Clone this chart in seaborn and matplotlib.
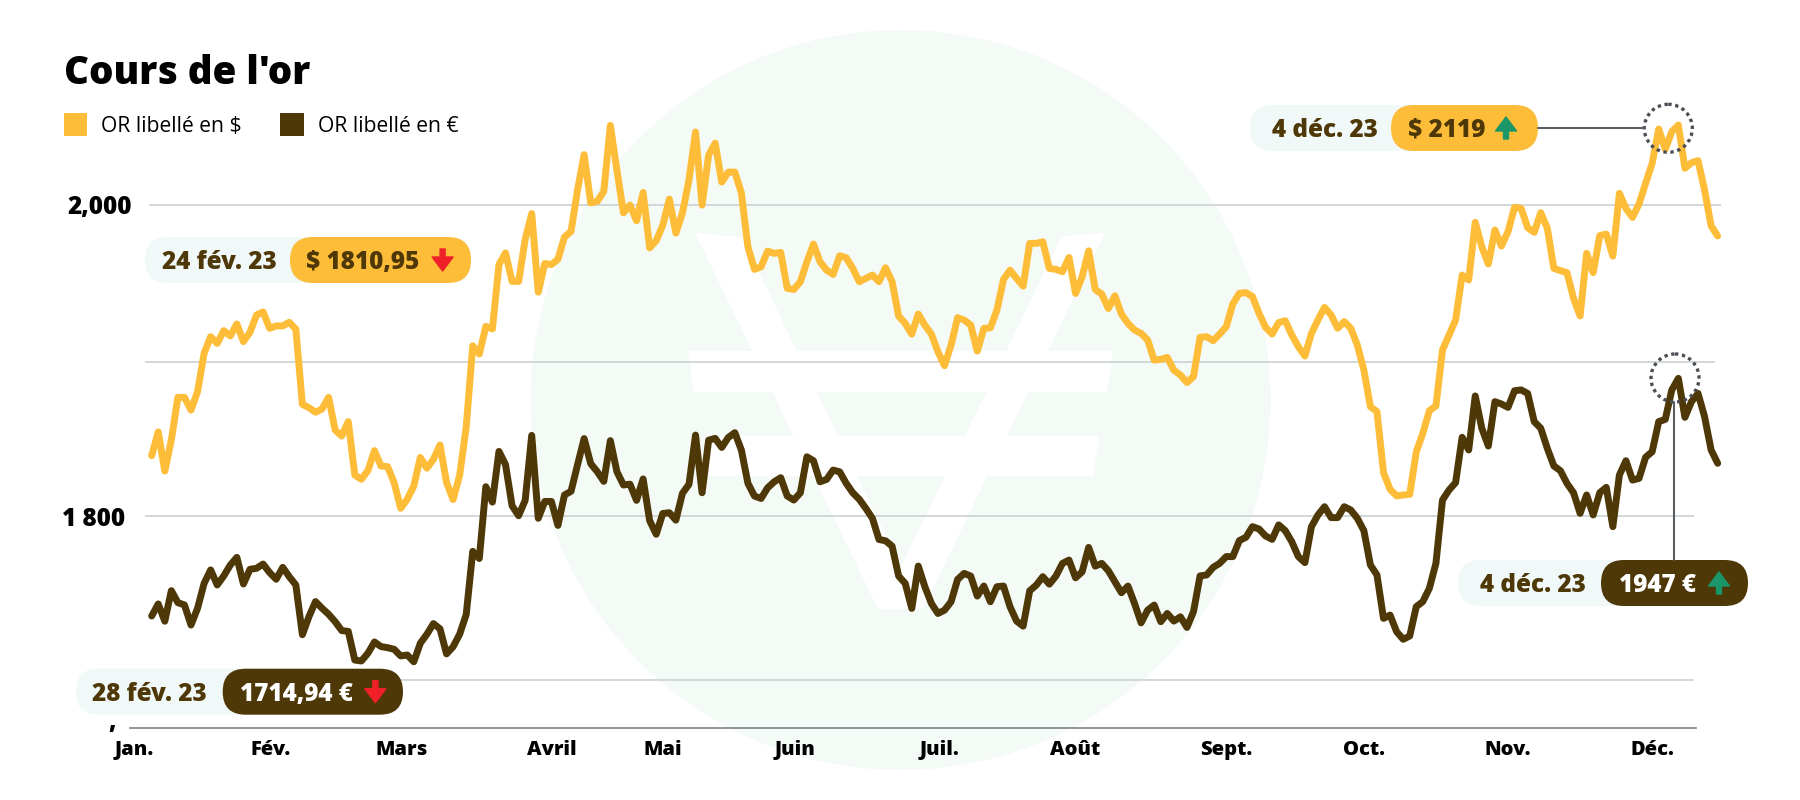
import matplotlib
matplotlib.use('Agg')
import matplotlib.pyplot as plt
import matplotlib.patches as mpatches
import pandas as pd
import seaborn as sns

usd_prices = [
    1841.6, 1856.6, 1831.9, 1851.5, 1878.4, 1878.4, 1870.4, 1882.0, 1906.2, 1916.7,
    1912.5, 1920.5, 1917.2, 1924.7, 1913.6, 1919.5, 1930.4, 1932.3, 1922.0, 1923.5,
    1923.5, 1925.8, 1921.4, 1874.0, 1871.9, 1869.0, 1871.1, 1878.4, 1857.8, 1854.0,
    1863.1, 1829.4, 1826.7, 1832.2, 1844.8, 1835.1, 1834.7, 1824.6, 1808.4, 1814.1,
    1822.4, 1840.5, 1833.7, 1839.3, 1848.4, 1824.7, 1813.9, 1829.2, 1859.6, 1911.0,
    1905.8, 1923.2, 1921.6, 1962.2, 1969.6, 1951.6, 1951.6, 1978.0, 1994.4, 1944.8,
    1962.9, 1962.2, 1965.6, 1979.6, 1983.2, 2009.5, 2031.6, 2001.2, 2002.1, 2008.4,
    2050.1, 2021.9, 1994.9, 1999.8, 1989.9, 2007.7, 1972.8, 1977.3, 1987.0, 2003.5,
    1982.1, 1994.8, 2015.6, 2045.9, 1999.8, 2031.4, 2038.9, 2014.3, 2020.6, 2020.6,
    2007.4, 1973.3, 1959.2, 1960.8, 1970.7, 1969.3, 1969.9, 1947.2, 1946.5, 1951.4,
    1964.0, 1975.2, 1964.0, 1958.7, 1956.0, 1967.8, 1966.5, 1959.8, 1951.4, 1953.5,
    1955.6, 1951.4, 1960.2, 1951.4, 1929.7, 1925.1, 1918.3, 1931.0, 1924.0, 1918.3,
    1907.2, 1898.4, 1911.4, 1928.7, 1927.2, 1924.0, 1907.6, 1921.9, 1922.3, 1933.5,
    1952.8, 1958.7, 1953.5, 1948.6, 1975.6, 1975.6, 1976.6, 1959.8, 1959.2, 1957.7,
    1966.7, 1944.0, 1954.5, 1970.9, 1946.5, 1943.6, 1934.5, 1942.5, 1931.0, 1925.1,
    1920.9, 1918.8, 1914.6, 1901.9, 1902.4, 1903.6, 1895.6, 1892.5, 1887.8, 1891.5,
    1916.3, 1916.7, 1914.2, 1918.4, 1923.0, 1937.4, 1944.1, 1944.5, 1942.0, 1931.5,
    1922.6, 1918.4, 1925.6, 1926.8, 1917.8, 1910.4, 1904.5, 1918.8, 1927.3, 1935.2,
    1930.4, 1922.0, 1926.2, 1922.0, 1911.5, 1895.7, 1872.5, 1869.4, 1830.9, 1820.4,
    1816.2, 1816.8, 1817.2, 1844.1, 1855.7, 1870.0, 1873.0, 1908.3, 1917.8, 1927.2,
    1955.6, 1952.5, 1988.9, 1973.5, 1962.6, 1984.0, 1973.9, 1983.0, 1998.4, 1997.7,
    1985.5, 1982.6, 1995.0, 1985.1, 1959.8, 1958.4, 1957.1, 1940.9, 1929.8, 1969.3,
    1957.1, 1980.5, 1981.5, 1967.6, 2007.2, 1997.7, 1992.0, 2000.5, 2013.5, 2026.1,
    2047.8, 2035.0, 2046.1, 2050.3, 2023.0, 2026.5, 2027.8, 2009.3, 1986.6, 1980.3,
]

eur_prices = [
    1740.4, 1748.0, 1737.1, 1756.4, 1748.8, 1747.4, 1734.7, 1745.3, 1761.0, 1769.5,
    1760.0, 1765.7, 1772.6, 1777.4, 1760.6, 1769.9, 1770.5, 1773.2, 1767.8, 1763.6,
    1771.1, 1765.2, 1760.0, 1728.6, 1740.0, 1749.5, 1745.3, 1741.5, 1736.8, 1731.2,
    1730.7, 1712.6, 1712.0, 1716.9, 1724.0, 1721.1, 1720.4, 1719.4, 1715.2, 1715.8,
    1711.5, 1723.2, 1728.9, 1735.6, 1732.3, 1716.5, 1721.0, 1728.9, 1741.3, 1781.2,
    1776.7, 1822.0, 1812.3, 1844.3, 1836.0, 1810.0, 1803.7, 1813.4, 1854.4, 1802.1,
    1812.7, 1812.7, 1797.6, 1816.8, 1819.1, 1836.0, 1852.4, 1836.6, 1831.5, 1825.4,
    1851.1, 1831.5, 1823.1, 1823.6, 1813.4, 1826.9, 1800.6, 1792.0, 1805.1, 1805.6,
    1800.9, 1817.8, 1823.5, 1854.6, 1818.2, 1851.4, 1852.5, 1846.8, 1853.1, 1856.1,
    1845.1, 1824.1, 1816.1, 1814.6, 1821.3, 1825.1, 1827.7, 1816.1, 1813.6, 1818.2,
    1840.9, 1838.4, 1825.1, 1826.6, 1832.5, 1831.4, 1824.1, 1818.2, 1814.0, 1808.3,
    1802.0, 1788.7, 1787.9, 1784.5, 1765.6, 1761.0, 1745.2, 1771.9, 1758.9, 1748.3,
    1742.0, 1744.1, 1749.4, 1763.5, 1767.3, 1765.6, 1753.0, 1759.3, 1749.4, 1758.9,
    1759.3, 1746.2, 1737.2, 1734.0, 1756.3, 1759.9, 1765.2, 1760.5, 1765.6, 1773.6,
    1775.7, 1764.5, 1768.3, 1783.7, 1771.9, 1773.6, 1769.0, 1762.0, 1755.1, 1759.3,
    1748.3, 1736.1, 1744.1, 1747.3, 1736.8, 1742.0, 1737.2, 1739.9, 1733.2, 1743.2,
    1765.7, 1766.3, 1771.1, 1773.7, 1777.9, 1777.9, 1788.0, 1790.1, 1796.8, 1795.3,
    1790.9, 1788.8, 1797.9, 1794.3, 1787.3, 1777.9, 1774.1, 1796.8, 1804.2, 1809.4,
    1802.5, 1802.5, 1809.4, 1807.3, 1802.1, 1794.3, 1772.6, 1766.3, 1738.9, 1741.0,
    1730.5, 1725.7, 1727.8, 1746.3, 1749.5, 1757.9, 1773.7, 1813.6, 1819.9, 1824.6,
    1853.2, 1845.2, 1879.3, 1858.9, 1847.7, 1875.7, 1874.2, 1872.1, 1882.6, 1883.1,
    1880.9, 1863.1, 1858.9, 1846.2, 1835.1, 1832.1, 1824.1, 1818.2, 1805.2, 1816.8,
    1804.2, 1818.2, 1821.6, 1796.8, 1829.4, 1838.4, 1826.2, 1827.3, 1840.6, 1844.1,
    1863.1, 1864.5, 1883.1, 1890.4, 1865.8, 1875.7, 1880.9, 1866.2, 1845.2, 1836.8,
]

month_labels = ['Jan.', 'Fév.', 'Mars', 'Avril', 'Mai', 'Juin', 'Juil.', 'Août', 'Sept.', 'Oct.', 'Nov.', 'Déc.']
month_ticks = [-2.7, 18.2, 38.1, 61.1, 78.0, 98.2, 120.2, 141.0, 164.0, 185.0, 207.0, 229.0]
grid_levels = [2000, 1900.7, 1803.5, 1700]
y_tick_values = [2000, 1803.5, 1675]
y_tick_labels = ['2,000', '1 800', ',']

GOLD = '#FDBD39'
BROWN = '#4F3807'
PALE = '#F0F8F8'
WATERMARK = '#F4FAF6'
RED = '#EF2028'
GREEN = '#1A9668'

sns.set_theme(style='white')
plt.rcParams['font.family'] = ['Open Sans', 'DejaVu Sans']

df = pd.DataFrame({
    'jour': list(range(len(usd_prices))) * 2,
    'cours': usd_prices + eur_prices,
    'serie': ['usd'] * len(usd_prices) + ['eur'] * len(eur_prices),
})

fig = plt.figure(figsize=(18, 8), dpi=100, facecolor='white')


def pixel_axes(zorder):
    a = fig.add_axes([0, 0, 1, 1], zorder=zorder)
    a.set_xlim(0, 1800)
    a.set_ylim(800, 0)
    a.axis('off')
    a.patch.set_alpha(0)
    return a


# background: big circle with the white currency sign
bg = pixel_axes(0)
bg.add_patch(mpatches.Circle((900.5, 400), 370, color=WATERMARK, lw=0))
bg.add_patch(mpatches.Polygon([(695, 233), (742, 237), (901, 567), (1062, 236), (1105, 233), (923, 609), (878, 609)],
                              color='white', lw=0))
bg.add_patch(mpatches.Polygon([(688, 351), (1113, 351), (1107, 392), (694, 392)], color='white', lw=0))
bg.add_patch(mpatches.Polygon([(703, 436), (1099, 436), (1093, 476), (709, 476)], color='white', lw=0))

# main chart
ax = fig.add_axes([130 / 1800, 1 - 727.7 / 800, 1600 / 1800, 627.7 / 800], zorder=1)
ax.patch.set_alpha(0)
sns.lineplot(data=df, x='jour', y='cours', hue='serie', palette={'usd': GOLD, 'eur': BROWN},
             estimator=None, sort=False, linewidth=5.0, legend=False, ax=ax,
             solid_joinstyle='round', solid_capstyle='round')
ax.set_xlim(-3.31, 240.88)
ax.set_ylim(1669.9, 2066.1)
ax.set_xlabel('')
ax.set_ylabel('')

ax.hlines(grid_levels, [-0.4, -1.0, -1.0, -1.0], [239.5, 238.6, 235.4, 235.4],
          color='#CFD4D6', linewidth=1.3, zorder=0)

for side in ['top', 'right', 'left']:
    ax.spines[side].set_visible(False)
ax.spines['bottom'].set_color('#808285')
ax.spines['bottom'].set_linewidth(1.2)
ax.spines['bottom'].set_bounds(-3.31, 235.7)

ax.set_xticks(month_ticks)
ax.set_xticklabels(month_labels, fontsize=14.5, fontweight=800, color='black')
ax.set_yticks(y_tick_values)
ax.set_yticklabels(y_tick_labels, fontsize=17.5, fontweight=800, color='black')
ax.tick_params(axis='both', length=0, pad=0)
ax.tick_params(axis='x', pad=9)
ax.get_yticklabels()[0].set_x(0.001)
ax.get_yticklabels()[1].set_x(-0.003)
ax.get_yticklabels()[2].set_x(-0.009)

# title, legend, value tags
top = pixel_axes(2)
top.text(64, 73, "Cours de l'or", fontsize=27.7, fontweight=800, color='black', va='center')

top.add_patch(mpatches.Rectangle((64, 113), 23, 23, color=GOLD, lw=0))
top.text(101, 126, 'OR libellé en $', fontsize=15.2, color='black', va='center')
top.add_patch(mpatches.Rectangle((280, 113), 24, 23, color=BROWN, lw=0))
top.text(317.5, 126, 'OR libellé en €', fontsize=15.2, color='black', va='center')


def pill(x0, x1, y0, y1, color):
    box = mpatches.FancyBboxPatch((x0 + 23, y0 + 23), x1 - x0 - 46, y1 - y0 - 46,
                                  boxstyle='round,pad=23,rounding_size=23', color=color, lw=0)
    top.add_patch(box)


def arrow(xc, y0, y1, color, up):
    tip, base = (y0, y0 + 14) if up else (y1, y1 - 14)
    tail = y1 if up else y0
    pts = [(xc, tip), (xc + 10.5, base), (xc + 2.5, base), (xc + 2.5, tail),
           (xc - 2.5, tail), (xc - 2.5, base), (xc - 10.5, base)]
    top.add_patch(mpatches.Polygon(pts, closed=True, facecolor=color, edgecolor=color, lw=1, joinstyle='round'))


def tag(pale_x, main_x0, main_x1, y0, date, date_x, value, value_x, main_color, value_color, arrow_x, arrow_color, up):
    y1 = y0 + 46
    pill(pale_x, main_x0 + 40, y0, y1, PALE)
    pill(main_x0, main_x1, y0, y1, main_color)
    top.text(date_x, y0 + 25.5, date, fontsize=17.5, fontweight=800, color=BROWN, va='center')
    top.text(value_x, y0 + 25.5, value, fontsize=17.5, fontweight=800, color=value_color, va='center')
    arrow(arrow_x, y0 + 12, y0 + 34, arrow_color, up)


tag(145, 290, 471, 237, '24 fév. 23', 162, '$ 1810,95', 306.5, GOLD, BROWN, 442.6, RED, False)
tag(1250, 1391, 1538, 105, '4 déc. 23', 1272, '$ 2119', 1407.5, GOLD, BROWN, 1506, GREEN, True)
tag(76, 222.7, 403, 668.7, '28 fév. 23', 92, '1714,94 €', 240, BROWN, 'white', 375.4, RED, False)
tag(1458, 1601, 1748, 560, '4 déc. 23', 1480, '1947 €', 1619, BROWN, 'white', 1719, GREEN, True)

# pointers to the two highs
top.plot([1538, 1644.5], [128.3, 128.3], color='#5A5E62', lw=1.5)
top.plot([1674.3, 1674.3], [402, 560], color='#5A5E62', lw=1.5)
for cx, cy in [(1668.3, 128.3), (1675, 378)]:
    top.add_patch(mpatches.Circle((cx, cy), 24, fill=False, edgecolor='#4A4E54', lw=2.4, linestyle=(0, (1, 1.1))))

fig.savefig('out.png', dpi=100)
